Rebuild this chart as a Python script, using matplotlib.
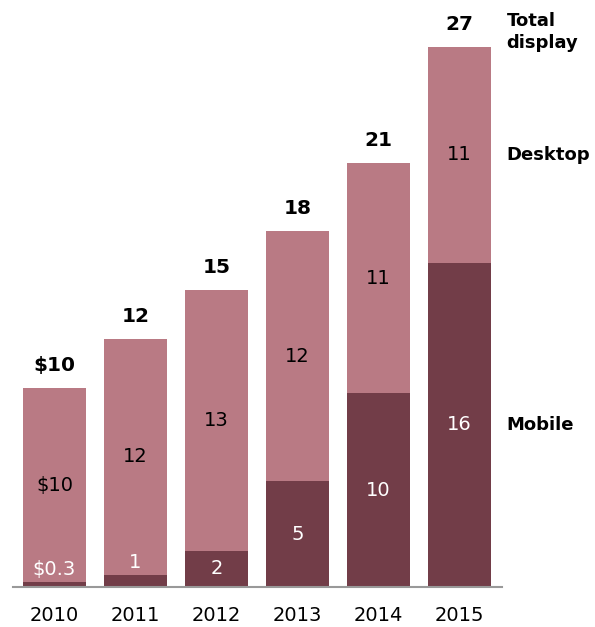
import matplotlib.pyplot as plt

years = ['2010', '2011', '2012', '2013', '2014', '2015']
mobile = [0.25, 0.6, 1.8, 5.3, 9.7, 16.2]
desktop = [9.7, 11.8, 13.05, 12.5, 11.5, 10.8]
mobile_lbl = ['$0.3', '1', '2', '5', '10', '16']
desktop_lbl = ['$10', '12', '13', '12', '11', '11']
total_lbl = ['$10', '12', '15', '18', '21', '27']

dark = '#723d48'
light = '#b97a84'
font = ['DejaVu Sans']

fig = plt.figure(figsize=(5.95, 6.27), dpi=100)
W, H = 595, 627
# axes in pixel box: left 13, right 502, baseline at y=587, 20 px per unit
ax = fig.add_axes([13 / W, 40 / H, 489 / W, 580 / H])
ax.set_xlim(-0.512, 5.525)
ax.set_ylim(0, 29)

x = range(len(years))
ax.bar(x, mobile, width=0.778, color=dark)
ax.bar(x, desktop, width=0.778, bottom=mobile, color=light)

for i in x:
    m, d = mobile[i], desktop[i]
    ym = m / 2 if m > 1.5 else m + 0.65
    ax.text(i, ym, mobile_lbl[i], ha='center', va='center', color='white',
            fontsize=14, family=font)
    ax.text(i, m + d / 2, desktop_lbl[i], ha='center', va='center', color='black',
            fontsize=14, family=font)
    ax.annotate(total_lbl[i], (i, m + d), xytext=(0, 16), textcoords='offset points',
                ha='center', va='center', fontsize=14.5, fontweight='bold', family=font)

# series labels on the right
n = len(years) - 1
ax.annotate('Total\ndisplay', (n, mobile[n] + desktop[n]), xytext=(34, 11),
            textcoords='offset points', ha='left', va='center', fontsize=13,
            fontweight='bold', family=font, linespacing=1.3, annotation_clip=False)
ax.annotate('Desktop', (n, mobile[n] + desktop[n] / 2), xytext=(34, 0),
            textcoords='offset points', ha='left', va='center', fontsize=13,
            fontweight='bold', family=font, annotation_clip=False)
ax.annotate('Mobile', (n, mobile[n] / 2), xytext=(34, 0),
            textcoords='offset points', ha='left', va='center', fontsize=13,
            fontweight='bold', family=font, annotation_clip=False)

ax.set_xticks(list(x))
ax.set_xticklabels(years, fontsize=14, family=font)
ax.tick_params(axis='x', length=0, pad=14)
ax.set_yticks([])
for s in ['top', 'right', 'left']:
    ax.spines[s].set_visible(False)
ax.spines['bottom'].set_color('#999999')
ax.spines['bottom'].set_linewidth(1.5)

fig.savefig('out.png', dpi=100)
